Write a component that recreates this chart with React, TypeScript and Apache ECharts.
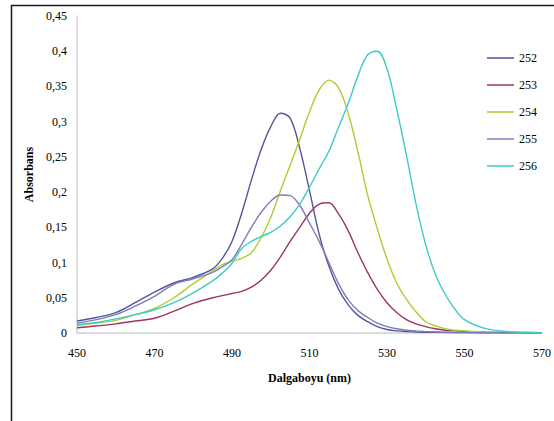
import React, { useEffect, useRef } from "react";
import * as echarts from "echarts";

const wavelengths = [450, 455, 460, 465, 470, 475, 480, 485, 487.5, 490, 492.5, 495, 497.5, 500, 502.5, 505, 507.5, 510, 512.5, 515, 517.5, 520, 522.5, 525, 527.5, 530, 532.5, 535, 537.5, 540, 542.5, 545, 547.5, 550, 555, 560, 565, 570];

const s252 = [0.017, 0.022, 0.029, 0.043, 0.058, 0.071, 0.079, 0.091, 0.106, 0.13, 0.17, 0.217, 0.26, 0.293, 0.312, 0.305, 0.262, 0.202, 0.14, 0.095, 0.062, 0.04, 0.025, 0.016, 0.009, 0.005, 0.003, 0.002, 0.0015, 0.001, 0.001, 0.0008, 0.0006, 0.0005, 0.0004, 0.0003, 0.0003, 0.0002];
const s253 = [0.0075, 0.01, 0.013, 0.017, 0.021, 0.031, 0.042, 0.05, 0.053, 0.056, 0.059, 0.065, 0.075, 0.089, 0.108, 0.13, 0.15, 0.17, 0.183, 0.185, 0.169, 0.145, 0.114, 0.086, 0.062, 0.043, 0.029, 0.019, 0.013, 0.009, 0.006, 0.004, 0.003, 0.002, 0.001, 0.0008, 0.0005, 0.0004];
const s254 = [0.0105, 0.014, 0.018, 0.026, 0.035, 0.05, 0.07, 0.088, 0.097, 0.102, 0.106, 0.114, 0.135, 0.164, 0.202, 0.238, 0.275, 0.314, 0.345, 0.359, 0.348, 0.312, 0.257, 0.196, 0.148, 0.105, 0.071, 0.048, 0.03, 0.016, 0.01, 0.006, 0.004, 0.003, 0.0015, 0.001, 0.0008, 0.0006];
const s255 = [0.014, 0.019, 0.026, 0.038, 0.052, 0.069, 0.077, 0.086, 0.094, 0.104, 0.126, 0.15, 0.171, 0.187, 0.196, 0.195, 0.181, 0.156, 0.13, 0.1, 0.07, 0.047, 0.032, 0.022, 0.014, 0.009, 0.006, 0.004, 0.003, 0.002, 0.0015, 0.001, 0.0008, 0.0006, 0.0004, 0.0003, 0.0002, 0.0002];
const s256 = [0.012, 0.015, 0.02, 0.026, 0.033, 0.043, 0.057, 0.074, 0.085, 0.099, 0.12, 0.13, 0.137, 0.143, 0.152, 0.165, 0.183, 0.207, 0.233, 0.258, 0.292, 0.326, 0.365, 0.395, 0.4, 0.375, 0.318, 0.253, 0.183, 0.125, 0.083, 0.055, 0.034, 0.019, 0.007, 0.0025, 0.001, 0.0005];

const seriesNames = ["252", "253", "254", "255", "256"];
const seriesValues = [s252, s253, s254, s255, s256];
const colors = ["#52569A", "#9C3566", "#ABCF2E", "#7B7DBB", "#3DCBCB"];

const FONT = "'Liberation Serif', 'Times New Roman', serif";

export default function App() {
  const ref = useRef<HTMLDivElement>(null);
  useEffect(() => {
    if (!ref.current) return;
    const chart = echarts.init(ref.current, null, { renderer: "svg" });
    chart.setOption({
      animation: false,
      backgroundColor: "#ffffff",
      textStyle: { fontFamily: FONT },
      grid: { left: 77, right: 7, top: 16, bottom: 88 },
      legend: {
        orient: "vertical",
        left: 482,
        top: 46,
        itemWidth: 27,
        itemHeight: 14,
        itemGap: 13,
        symbolKeepAspect: true,
        icon: "path://M0,0 L27,0 L27,1.5 L0,1.5 Z",
        data: seriesNames,
        textStyle: { fontFamily: FONT, fontSize: 12, color: "#000", lineHeight: 14 },
      },
      graphic: [
        {
          type: "rect",
          shape: { x: 11.5, y: 5.5, width: 600, height: 500 },
          style: { fill: "none", stroke: "#1a1a1a", lineWidth: 1.5 },
          silent: true,
        },
      ],
      xAxis: {
        type: "value",
        min: 450,
        max: 570,
        interval: 20,
        name: "Dalgaboyu (nm)",
        nameLocation: "middle",
        nameGap: 39,
        nameTextStyle: { fontFamily: FONT, fontSize: 12, fontWeight: "bold", color: "#000" },
        axisLine: { show: true, lineStyle: { color: "#d0d0d0", width: 1.5 } },
        axisTick: { show: false },
        splitLine: { show: false },
        axisLabel: { fontFamily: FONT, fontSize: 12, color: "#000", margin: 14 },
      },
      yAxis: {
        type: "value",
        min: 0,
        max: 0.45,
        interval: 0.05,
        name: "Absorbans",
        nameLocation: "middle",
        nameGap: 41,
        nameTextStyle: { fontFamily: FONT, fontSize: 12, fontWeight: "bold", color: "#000" },
        axisLine: { show: true, lineStyle: { color: "#d0d0d0", width: 1.5 } },
        axisTick: { show: false },
        splitLine: { show: false },
        axisLabel: {
          fontFamily: FONT,
          fontSize: 12,
          color: "#000",
          margin: 10,
          formatter: (v: number) => String(+v.toFixed(2)).replace(".", ","),
        },
      },
      series: seriesNames.map((name, i) => ({
        name,
        type: "line",
        symbol: "none",
        smooth: 0.35,
        color: colors[i],
        lineStyle: { width: 1.4, color: colors[i] },
        data: wavelengths.map((w, j) => [w, seriesValues[i][j]]),
      })),
    });
    return () => chart.dispose();
  }, []);
  return (
    <div
      ref={ref}
      style={{ position: "fixed", left: 0, top: 0, width: 554, height: 421 }}
    />
  );
}
